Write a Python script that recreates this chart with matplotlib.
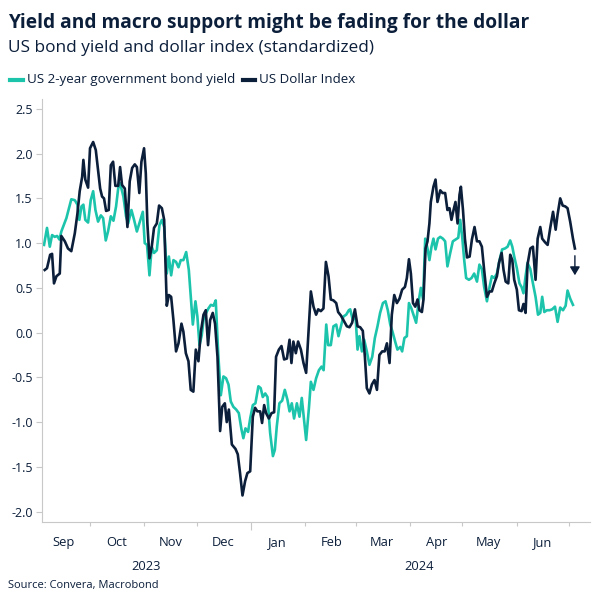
import numpy as np
import pandas as pd
import matplotlib
matplotlib.use("Agg")
import matplotlib.pyplot as plt

# days after 2023-09-01
START = pd.Timestamp("2023-09-01")

yield_days = [3.7, 5.4, 7.0, 8.3, 9.8, 11.2, 12.5, 13.6, 16.5, 19.3, 21.3, 22.8, 23.9, 25.1, 26.2,
              27.3, 28.9, 30.4, 31.8, 33.1, 34.6, 36.2, 37.5, 39.0, 40.3, 41.9, 43.4, 44.9, 46.1,
              47.2, 49.1, 50.6, 51.8, 53.7, 55.2, 56.8, 58.2, 60.2, 61.3, 62.6, 64.0, 65.3, 66.6,
              68.2, 69.7, 71.1, 72.4, 73.9, 75.1, 76.4, 77.7, 79.2, 80.6, 81.9, 83.4, 85.0, 86.5,
              87.6, 88.8, 90.3, 91.4, 92.6, 93.9, 94.9, 96.4, 97.7, 99.1, 100.6, 101.9, 103.3,
              104.8, 106.3, 107.8, 109.2, 110.5, 112.0, 113.6, 115.1, 116.6, 117.7, 118.9, 120.4,
              121.6, 123.1, 124.6, 126.3, 127.6, 128.8, 130.2, 131.5, 133.0, 134.6, 135.7, 136.8,
              138.3, 139.9, 141.4, 142.9, 144.1, 145.4, 146.7, 148.3, 149.8, 151.1, 152.5, 153.6,
              155.2, 156.3, 157.8, 159.3, 160.9, 162.4, 163.6, 165.1, 166.2, 167.7, 169.2, 170.8,
              172.1, 173.5, 174.9, 176.5, 178.0, 178.8, 180.3, 181.8, 183.0, 184.1, 185.5, 186.8,
              188.3, 189.8, 191.4, 192.9, 194.4, 195.9, 197.5, 199.0, 200.3, 201.7, 203.0, 204.5,
              205.8, 207.4, 208.5, 209.8, 211.2, 212.4, 213.8, 215.0, 216.5, 218.1, 219.2, 220.5,
              221.7, 223.0, 224.1, 225.3, 226.4, 227.6, 229.0, 230.3, 231.8, 233.1, 234.4, 236.0,
              237.5, 239.0, 240.6, 241.7, 242.9, 244.0, 245.1, 246.7, 248.2, 249.7, 251.3, 252.7,
              254.1, 255.4, 257.0, 258.5, 259.8, 261.2, 262.7, 264.2, 265.7, 267.3, 268.8, 270.3,
              271.5, 272.6, 274.1, 275.6, 276.8, 277.9, 279.1, 280.2, 281.8, 283.3, 284.8, 286.2,
              287.5, 288.6, 289.8, 291.3, 292.8, 294.3, 295.9, 297.4, 298.9, 300.5, 302.0, 303.1,
              304.6, 306.2]
yield_vals = [0.98, 1.17, 0.96, 1.09, 1.07, 1.08, 1.04, 1.13, 1.28, 1.49, 1.48, 1.43, 1.26, 1.41, 1.43,
              1.26, 1.23, 1.48, 1.58, 1.37, 1.24, 1.31, 1.28, 1.03, 1.13, 1.30, 1.25, 1.41, 1.61,
              1.67, 1.52, 1.30, 1.22, 1.37, 1.26, 1.13, 1.22, 1.35, 1.00, 0.98, 0.64, 0.96, 0.89,
              0.92, 1.20, 1.26, 1.18, 0.66, 0.85, 0.64, 0.81, 0.79, 0.73, 0.81, 0.81, 0.90, 0.70,
              0.40, 0.09, 0.35, 0.18, -0.14, -0.03, 0.14, 0.22, 0.27, 0.31, 0.30, 0.36, -0.23,
              -0.70, -0.49, -0.51, -0.58, -0.77, -0.83, -0.86, -0.90, -1.08, -1.18, -1.07, -1.11,
              -0.96, -0.81, -0.79, -0.60, -0.62, -0.72, -0.68, -0.72, -1.12, -1.38, -1.31, -1.05,
              -0.79, -0.76, -0.64, -0.75, -0.88, -0.79, -0.96, -0.79, -0.94, -0.73, -1.00, -1.20,
              -0.84, -0.55, -0.64, -0.51, -0.42, -0.38, -0.42, 0.09, -0.14, -0.14, 0.07, 0.09,
              -0.04, 0.07, 0.18, 0.20, 0.25, 0.26, 0.14, 0.20, -0.19, -0.04, -0.21, -0.08,
              -0.21, -0.36, -0.27, -0.06, 0.07, 0.22, 0.33, 0.35, 0.25, 0.09, 0.01, -0.10,
              -0.19, -0.16, -0.21, -0.06, -0.04, 0.33, 0.27, 0.20, 0.11, 0.37, 0.50, 0.37,
              1.05, 0.94, 0.81, 0.96, 1.05, 0.93, 1.05, 1.07, 1.05, 1.02, 0.74, 0.89,
              1.02, 1.04, 1.06, 1.26, 1.06, 0.81, 0.61, 0.59, 0.61, 0.66, 0.57, 0.76,
              0.71, 0.51, 0.35, 0.51, 0.63, 0.61, 0.66, 0.81, 0.93, 0.94, 0.96, 1.03,
              0.96, 0.85, 0.72, 0.55, 0.51, 0.44, 0.63, 0.78, 0.71, 0.55, 0.40, 0.20,
              0.22, 0.40, 0.23, 0.25, 0.25, 0.26, 0.29, 0.12, 0.28, 0.25, 0.30, 0.47,
              0.38, 0.31]

usd_days = [4.1, 5.4, 7.2, 8.3, 9.4, 10.8, 12.7, 13.6, 15.6, 17.4, 19.3, 21.3, 22.8, 24.1, 25.5,
            26.2, 27.3, 28.9, 30.0, 31.8, 33.3, 34.6, 35.8, 36.9, 38.0, 39.2, 40.7, 41.9, 43.2,
            44.5, 46.1, 47.2, 48.3, 49.9, 51.4, 52.7, 54.1, 55.6, 56.8, 58.2, 59.4, 60.9, 61.9,
            62.8, 64.0, 65.3, 66.6, 68.2, 69.5, 71.1, 72.4, 73.9, 75.1, 76.4, 77.7, 79.2, 80.6,
            82.3, 83.4, 84.8, 86.3, 87.6, 89.1, 90.5, 92.0, 93.4, 94.9, 96.2, 97.5, 98.7, 100.2,
            101.5, 102.9, 104.4, 105.6, 107.1, 108.2, 109.4, 111.1, 113.2, 114.5, 115.8, 117.2,
            118.7, 120.0, 121.6, 123.1, 124.4, 125.7, 127.3, 128.4, 129.6, 130.7, 132.3, 133.8,
            135.3, 136.4, 138.0, 139.5, 141.0, 142.6, 144.1, 145.2, 146.3, 147.7, 149.0, 150.6,
            152.1, 153.6, 154.9, 156.3, 157.8, 159.3, 160.5, 162.0, 163.5, 164.9, 166.4, 167.7,
            169.2, 170.8, 171.9, 173.5, 174.9, 176.9, 178.4, 179.9, 181.5, 183.0, 184.5, 186.0,
            187.2, 188.3, 189.8, 191.2, 192.7, 194.1, 195.5, 197.1, 198.5, 199.8, 201.3, 202.6,
            204.0, 205.5, 207.0, 208.5, 210.1, 211.2, 212.4, 213.5, 214.7, 216.0, 217.3, 218.4,
            219.8, 220.7, 221.9, 223.0, 224.1, 224.9, 226.4, 227.6, 228.7, 230.3, 231.6, 233.1,
            234.4, 235.6, 236.7, 237.9, 239.0, 240.2, 241.3, 242.1, 243.3, 244.4, 245.6, 247.1,
            248.4, 249.9, 251.3, 252.7, 254.1, 255.4, 257.0, 258.5, 259.8, 261.2, 262.7, 263.9,
            265.4, 266.5, 267.7, 269.2, 270.3, 271.5, 272.6, 274.1, 275.3, 276.8, 277.9, 279.1,
            280.2, 281.8, 283.3, 284.8, 286.0, 287.5, 288.6, 290.2, 291.7, 293.2, 294.8, 296.3,
            297.4, 298.9, 300.3, 301.8, 303.1, 304.6, 306.2, 307.3]
usd_vals = [0.70, 0.72, 0.87, 0.88, 0.55, 0.63, 0.66, 1.08, 1.02, 0.94, 0.91, 1.11, 1.33, 1.58, 1.74,
            1.93, 1.71, 1.62, 2.06, 2.13, 2.04, 1.82, 1.61, 1.52, 1.50, 1.36, 1.37, 1.87, 1.91,
            1.64, 1.64, 1.85, 1.65, 1.61, 1.18, 1.69, 1.84, 1.88, 1.85, 1.56, 1.91, 2.06, 1.78,
            1.22, 0.83, 0.96, 1.17, 1.22, 1.42, 1.39, 1.26, 0.30, 0.42, 0.40, 0.14, -0.21, -0.12,
            0.10, 0.01, -0.23, -0.32, -0.64, -0.66, -0.19, -0.32, 0.01, 0.20, 0.25, -0.14, 0.14, 0.22,
            0.10, -0.27, -1.10, -0.83, -0.79, -1.00, -0.86, -1.25, -1.30, -1.36, -1.57, -1.82,
            -1.66, -1.57, -1.55, -0.94, -0.84, -0.88, -0.88, -1.01, -0.81, -0.90, -0.96, -0.90,
            -0.89, -0.27, -0.19, -0.15, -0.30, -0.29, -0.08, -0.34, -0.10, -0.23, -0.10, -0.19,
            -0.34, -0.45, -0.01, 0.46, 0.29, 0.20, 0.26, 0.24, 0.27, 0.79, 0.63, 0.37,
            0.36, 0.33, 0.23, 0.19, 0.14, 0.07, 0.06, 0.11, 0.26, 0.07, 0.06, 0.02,
            -0.27, -0.62, -0.68, -0.58, -0.53, -0.64, -0.25, -0.21, -0.21, -0.12, -0.34, 0.20,
            0.42, 0.33, 0.38, 0.48, 0.51, 0.61, 0.82, 0.66, 0.33, 0.29, 0.37, 0.25,
            0.23, 0.37, 0.94, 1.02, 1.22, 1.46, 1.63, 1.71, 1.46, 1.59, 1.56, 1.56,
            1.37, 1.39, 1.26, 1.37, 1.46, 1.22, 1.54, 1.63, 1.37, 1.05, 0.84, 0.85,
            1.04, 1.18, 1.02, 1.02, 0.96, 0.70, 0.40, 0.46, 0.46, 0.55, 0.63, 0.78,
            0.89, 0.70, 0.57, 0.55, 0.87, 0.81, 0.59, 0.48, 0.25, 0.24, 0.32, 0.22,
            0.76, 0.94, 0.96, 0.59, 1.05, 1.18, 1.05, 1.01, 0.98, 1.17, 1.35, 1.15,
            1.32, 1.50, 1.42, 1.41, 1.39, 1.24, 1.05, 0.94]

yticks = [2.5, 2.0, 1.5, 1.0, 0.5, 0.0, -0.5, -1.0, -1.5, -2.0]
month_names = ["Sep", "Oct", "Nov", "Dec", "Jan", "Feb", "Mar", "Apr", "May", "Jun"]
years = ["2023", "2024"]

TEAL = "#1cc4ac"
NAVY = "#0b1e3a"
GREY = "#c8c8c8"

plt.rcParams["font.family"] = ["Open Sans", "DejaVu Sans"]


def to_dates(days):
    return START + pd.to_timedelta(np.array(days), unit="D")


fig = plt.figure(figsize=(6.04, 6.04), dpi=100)
ax = fig.add_axes([0.070, 0.136, 0.907, 0.700])

ax.plot(to_dates(yield_days), yield_vals, color=TEAL, lw=1.9, solid_joinstyle="round")
ax.plot(to_dates(usd_days), usd_vals, color=NAVY, lw=1.9, solid_joinstyle="round")

# arrow below the last dollar value
last_x = to_dates(usd_days)[-1]
ax.annotate("", xy=(last_x, usd_vals[-1] - 0.33), xytext=(last_x, usd_vals[-1] - 0.05),
            arrowprops=dict(arrowstyle="-|>,head_length=0.5,head_width=0.3", color=NAVY, lw=1.0))

x0 = START + pd.Timedelta(days=2.7)
x1 = START + pd.Timedelta(days=316)
ax.set_xlim(x0, x1)
ax.set_ylim(-2.115, 2.61)

ax.set_yticks(yticks)
ax.set_yticklabels([f"{v:.1f}" for v in yticks])
ax.tick_params(axis="y", length=4, width=0.8, color=GREY, labelcolor=NAVY, labelsize=9, pad=3)

month_starts = pd.date_range("2023-10-01", "2024-07-01", freq="MS")
ax.set_xticks([pd.Timestamp("2024-01-01")])
ax.set_xticklabels([""])
ax.set_xticks([d for d in month_starts if d.month != 1], minor=True)
ax.tick_params(axis="x", which="major", length=6, width=0.8, color=GREY)
ax.tick_params(axis="x", which="minor", length=3, width=0.8, color=GREY)

xtr = ax.get_xaxis_transform()
for i, name in enumerate(month_names):
    mid = pd.Timestamp("2023-09-01") + pd.DateOffset(months=i) + pd.Timedelta(days=15)
    ax.text(mid, -0.05, name, transform=xtr, ha="center", va="center", fontsize=9.3, color=NAVY)
ax.text(START + pd.Timedelta(days=62), -0.106, years[0], transform=xtr,
        ha="center", va="center", fontsize=9.3, color=NAVY)
ax.text(START + pd.Timedelta(days=218), -0.106, years[1], transform=xtr,
        ha="center", va="center", fontsize=9.3, color=NAVY)

for side in ["top", "right"]:
    ax.spines[side].set_visible(False)
for side in ["left", "bottom"]:
    ax.spines[side].set_color(GREY)
    ax.spines[side].set_linewidth(0.8)

fig.text(0.013, 0.962, "Yield and macro support might be fading for the dollar",
         fontsize=13.8, fontweight="bold", color=NAVY, va="center")
fig.text(0.013, 0.921, "US bond yield and dollar index (standardized)",
         fontsize=12.4, color=NAVY, va="center")

# legend drawn by hand: short thick bars + labels
fig.lines.append(plt.Line2D([0.017, 0.038], [0.868, 0.868], color=TEAL, lw=3,
                            transform=fig.transFigure))
fig.text(0.044, 0.868, "US 2-year government bond yield", fontsize=9.6, color=NAVY, va="center")
fig.lines.append(plt.Line2D([0.402, 0.423], [0.868, 0.868], color=NAVY, lw=3,
                            transform=fig.transFigure))
fig.text(0.429, 0.868, "US Dollar Index", fontsize=9.6, color=NAVY, va="center")

fig.text(0.013, 0.031, "Source: Convera, Macrobond", fontsize=8, color=NAVY, va="center")

fig.savefig("out.png", dpi=100, facecolor="white")
